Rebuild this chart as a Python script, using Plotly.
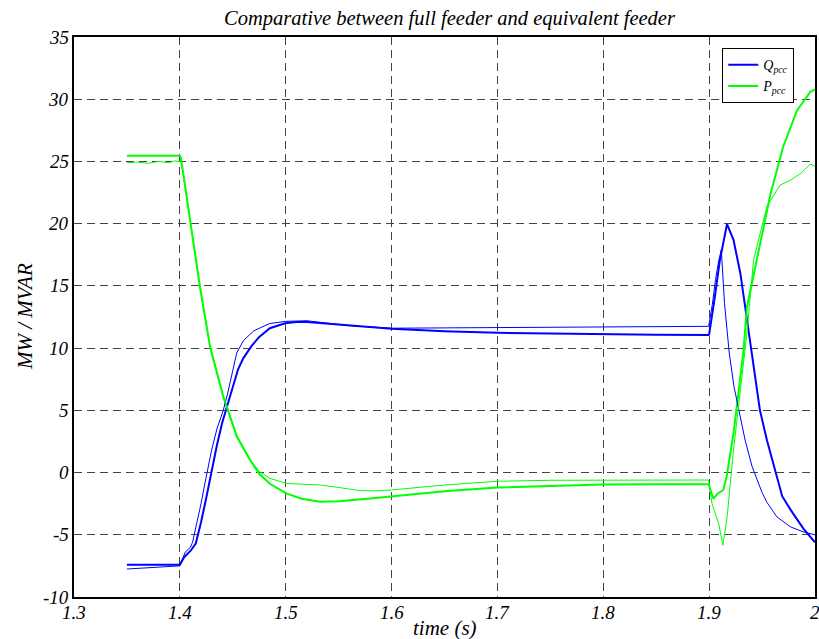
import plotly.graph_objects as go

# ---- data ----
q_full_t = [1.35, 1.40, 1.404, 1.41, 1.415, 1.42, 1.425, 1.43, 1.435, 1.44, 1.445, 1.45, 1.455, 1.46,
            1.468, 1.475, 1.485, 1.4995, 1.51, 1.52, 1.54, 1.56, 1.6, 1.65, 1.7, 1.75, 1.8, 1.85, 1.8995,
            1.9, 1.905, 1.91, 1.9169, 1.923, 1.9295, 1.934, 1.939, 1.9437, 1.948, 1.9546, 1.9625, 1.969,
            1.977, 1.989, 2.0]
q_full_v = [-7.4, -7.4, -6.8, -6.3, -5.7, -4.0, -2.0, 0.2, 2.2, 4.0, 5.5, 7.0, 8.3, 9.2,
            10.2, 10.9, 11.6, 12.0, 12.1, 12.1, 11.95, 11.8, 11.55, 11.35, 11.23, 11.18, 11.1, 11.08, 11.05,
            11.1, 13.9, 17.0, 19.97, 18.7, 16.0, 13.3, 10.1, 7.7, 5.0, 2.6, 0.0, -1.9,
            -3.0, -4.5, -5.6]

q_eq_t = [1.35, 1.36, 1.37, 1.38, 1.385, 1.39, 1.395, 1.40, 1.405, 1.41, 1.412, 1.415, 1.42, 1.425,
          1.43, 1.435, 1.441, 1.445, 1.45, 1.4537, 1.46, 1.47, 1.485, 1.5, 1.52, 1.54, 1.56, 1.6,
          1.65, 1.7, 1.75, 1.8, 1.85, 1.8995, 1.903, 1.906, 1.909, 1.9115, 1.9145, 1.919, 1.9235,
          1.9295, 1.934, 1.9405, 1.95, 1.9546, 1.964, 1.977, 1.989, 2.0]
q_eq_v = [-7.75, -7.7, -7.68, -7.62, -7.55, -7.58, -7.5, -7.5, -6.4, -6.0, -5.6, -4.5, -2.5, -0.3,
          1.8, 3.5, 5.0, 6.3, 8.2, 9.6, 10.6, 11.4, 11.98, 12.15, 12.2, 12.0, 11.8, 11.6,
          11.62, 11.66, 11.68, 11.7, 11.72, 11.75, 13.5, 15.5, 17.0, 17.9, 13.6, 9.6, 6.9,
          4.6, 2.6, 0.5, -1.6, -2.4, -3.56, -4.37, -4.77, -5.0]

p_full_t = [1.35, 1.40, 1.401, 1.41, 1.419, 1.4285, 1.441, 1.4538, 1.4664, 1.475, 1.485, 1.501, 1.515,
            1.5325, 1.55, 1.58, 1.6, 1.65, 1.7, 1.75, 1.8, 1.85, 1.8995, 1.904, 1.908, 1.9134, 1.9166,
            1.923, 1.9325, 1.9357, 1.945, 1.958, 1.97, 1.983, 1.9957, 2.0]
p_full_v = [25.45, 25.45, 25.3, 20.0, 14.9, 10.1, 6.1, 2.9, 1.0, -0.1, -0.9, -1.7, -2.1,
            -2.35, -2.3, -2.08, -1.9, -1.5, -1.2, -1.05, -0.96, -0.94, -0.93, -2.1, -1.7, -1.4, -0.3,
            3.15, 9.8, 13.3, 17.1, 22.4, 26.2, 29.1, 30.6, 30.8]

p_eq_t = [1.35, 1.36, 1.37, 1.38, 1.39, 1.395, 1.40, 1.401, 1.41, 1.419, 1.4285, 1.441, 1.4538, 1.4664,
          1.475, 1.485, 1.501, 1.5325, 1.55, 1.57, 1.583, 1.6, 1.65, 1.7, 1.75, 1.8, 1.85, 1.8995,
          1.9027, 1.909, 1.913, 1.917, 1.923, 1.9295, 1.9357, 1.942, 1.9546, 1.967, 1.977, 1.986,
          1.9957, 2.0]
p_eq_v = [24.9, 24.95, 24.85, 25.0, 24.9, 25.05, 25.0, 25.2, 20.1, 15.0, 10.2, 6.2, 3.0, 1.0,
          0.1, -0.47, -0.88, -1.0, -1.2, -1.45, -1.47, -1.4, -1.0, -0.7, -0.62, -0.6, -0.6, -0.6,
          -2.5, -4.1, -5.84, -3.57, 1.8, 6.6, 11.2, 17.1, 21.4, 23.1, 23.5, 24.0,
          24.8, 24.6]

x_ticks = [1.3, 1.4, 1.5, 1.6, 1.7, 1.8, 1.9, 2.0]
x_tick_text = ["1.3", "1.4", "1.5", "1.6", "1.7", "1.8", "1.9", "2"]
y_ticks = [-10, -5, 0, 5, 10, 15, 20, 25, 30, 35]
y_tick_text = ["-10", "-5", "0", "5", "10", "15", "20", "25", "30", "35"]

BLUE = "#0000ff"
GREEN = "#00ff00"
FONT = "Liberation Serif"

W, H = 819, 639
L, R, T, B = 74, 4, 37, 42

fig = go.Figure()
fig.add_trace(go.Scatter(x=q_full_t, y=q_full_v, mode="lines", name="<i>Q<sub>pcc</sub></i>",
                         line=dict(color=BLUE, width=2)))
fig.add_trace(go.Scatter(x=p_full_t, y=p_full_v, mode="lines", name="<i>P<sub>pcc</sub></i>",
                         line=dict(color=GREEN, width=2)))
fig.add_trace(go.Scatter(x=q_eq_t, y=q_eq_v, mode="lines", showlegend=False,
                         line=dict(color=BLUE, width=1)))
fig.add_trace(go.Scatter(x=p_eq_t, y=p_eq_v, mode="lines", showlegend=False,
                         line=dict(color=GREEN, width=1)))

axis_common = dict(
    showline=True, linecolor="black", linewidth=2, mirror=True,
    showgrid=True, gridcolor="#444444", gridwidth=1, griddash="8px,5px",
    zeroline=False, ticks="", automargin=False, showticklabels=False,
)

fig.update_xaxes(range=[1.3, 2.0], tickvals=x_ticks, **axis_common)
fig.update_yaxes(range=[-10, 35], tickvals=y_ticks, **axis_common)

tick_font = dict(family=FONT, size=19, color="black")
for v, s in zip(x_ticks, x_tick_text):
    fig.add_annotation(text="<i>" + s + "</i>", xref="x", yref="paper", x=v, y=0,
                       xanchor="center", yanchor="top", yshift=-3, showarrow=False,
                       font=tick_font)
for v, s in zip(y_ticks, y_tick_text):
    fig.add_annotation(text="<i>" + s + "</i>", xref="paper", yref="y", x=0, y=v,
                       xanchor="right", yanchor="middle", xshift=-3, showarrow=False,
                       font=tick_font)

fig.add_annotation(text="<i>time (s)</i>", xref="paper", yref="paper",
                   x=0.5, y=-(628 - (H - B)) / (H - T - B), xanchor="center", yanchor="middle",
                   showarrow=False,
                   font=dict(family=FONT, size=21, color="black"))
fig.add_annotation(text="<i>MW / MVAR</i>", xref="paper", yref="paper",
                   x=-(L - 25) / (W - L - R), y=0.5, xanchor="center", yanchor="middle",
                   textangle=-90, showarrow=False,
                   font=dict(family=FONT, size=21, color="black"))

fig.update_layout(
    width=W, height=H,
    margin=dict(l=L, r=R, t=T, b=B),
    paper_bgcolor="white", plot_bgcolor="white",
    font=dict(family=FONT, color="black"),
    title=dict(text="<i>Comparative between full feeder and equivalent feeder</i>",
               x=449.5 / W, xanchor="center", y=1 - 18 / H, yanchor="middle",
               font=dict(family=FONT, size=20.5, color="black")),
    legend=dict(x=0.972, y=0.98, xanchor="right", yanchor="top",
                bgcolor="white", bordercolor="black", borderwidth=1,
                font=dict(family=FONT, size=14, color="black"),
                itemwidth=30, tracegroupgap=0),
    showlegend=True,
)

fig.write_html("out.html", config={"displayModeBar": False},
               post_script="document.body.style.margin='0';")
